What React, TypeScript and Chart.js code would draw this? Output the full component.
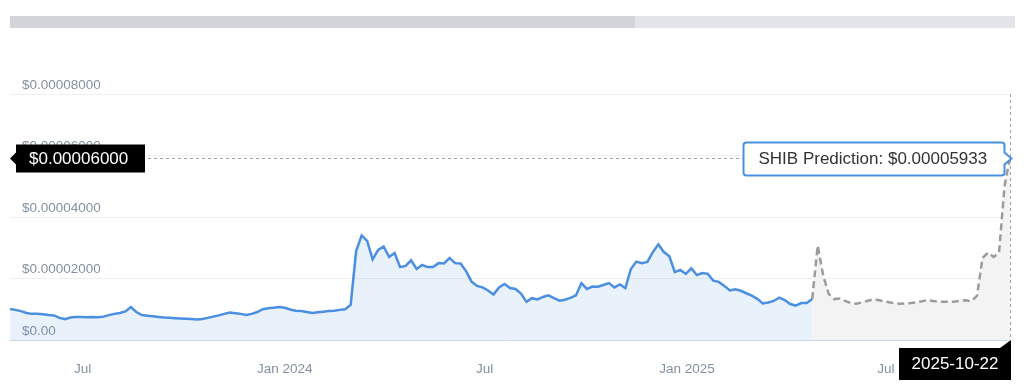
import React, { useEffect, useRef } from 'react';
import { Chart, registerables } from 'chart.js';

Chart.register(...registerables);

// ---- data ----
const startDate = '2023-04-26';
const stepDays = 5;

// SHIB price in micro-dollars (1e-6 USD), one value every 5 days
const actualMicroUSD = [
  10.1, 9.8, 9.4, 8.8, 8.5, 8.5, 8.4, 8.1, 8.0, 7.2,
  6.8, 7.3, 7.5, 7.5, 7.4, 7.5, 7.4, 7.6, 8.1, 8.5,
  8.8, 9.3, 10.7, 9.1, 8.1, 7.9, 7.7, 7.5, 7.3, 7.2,
  7.1, 7.0, 6.9, 6.8, 6.7, 6.8, 7.2, 7.6, 8.0, 8.5,
  8.9, 8.7, 8.5, 8.1, 8.5, 9.1, 10.0, 10.3, 10.5, 10.7,
  10.5, 9.9, 9.5, 9.4, 9.1, 8.8, 9.0, 9.2, 9.4, 9.5,
  9.8, 10.0, 11.4, 28.9, 34.0, 32.2, 26.2, 29.3, 30.4, 27.0,
  28.3, 23.7, 24.1, 25.9, 23.1, 24.4, 23.7, 23.7, 25.0, 24.9,
  26.7, 25.0, 24.9, 22.4, 19.0, 17.6, 17.1, 16.1, 14.8, 17.1,
  18.2, 16.9, 16.6, 15.1, 12.4, 13.6, 13.2, 14.0, 14.5, 13.6,
  12.8, 13.1, 13.7, 14.5, 18.5, 16.6, 17.4, 17.3, 17.9, 18.5,
  17.1, 18.1, 16.9, 23.1, 25.5, 25.0, 25.4, 28.6, 31.1, 28.6,
  27.2, 22.1, 22.8, 21.5, 23.3, 21.1, 21.8, 21.5, 19.3, 18.9,
  17.6, 16.1, 16.5, 16.0, 15.2, 14.4, 13.4, 11.9, 12.2, 12.7,
  13.8, 13.0, 11.7, 11.2, 12.0, 12.0, 13.3,
];

// prediction starts at the last actual point
const predictionMicroUSD = [
  13.3, 30.7, 21.0, 15.0, 13.3, 13.5, 12.7, 12.0, 11.8, 12.2,
  12.7, 13.2, 13.0, 12.6, 12.3, 11.9, 11.8, 11.9, 12.0, 12.3,
  12.6, 13.0, 12.7, 12.5, 12.4, 12.4, 12.5, 12.8, 12.9, 12.6,
  14.4, 26.7, 28.4, 27.0, 28.3, 50.0, 59.33,
];

const xTickDates = ['2023-07-01', '2024-01-01', '2024-07-01', '2025-01-01', '2025-07-01'];
const xTickLabels = ['Jul', 'Jan 2024', 'Jul', 'Jan 2025', 'Jul'];
const yTickValues = [0, 0.00002, 0.00004, 0.00006, 0.00008];
const yTickLabels = ['$0.00', '$0.00002000', '$0.00004000', '$0.00006000', '$0.00008000'];

const crosshairPriceLabel = '$0.00006000';
const predictionText = 'SHIB Prediction: $0.00005933';
const crosshairDateLabel = '2025-10-22';

// ---- helpers ----
const MICRO = 1e-6;
const dayOf = (d: string) => {
  const [y, m, dd] = d.split('-').map(Number);
  const [sy, sm, sd] = startDate.split('-').map(Number);
  return Math.round((Date.UTC(y, m - 1, dd) - Date.UTC(sy, sm - 1, sd)) / 86400000);
};
const endDay = dayOf(crosshairDateLabel);
const actualPoints = actualMicroUSD.map((v, i) => ({ x: i * stepDays, y: v * MICRO }));
const predStart = (actualMicroUSD.length - 1) * stepDays;
const predictionPoints = predictionMicroUSD.map((v, i) => ({ x: predStart + i * stepDays, y: v * MICRO }));
const xTickDays = xTickDates.map(dayOf);

const FONT = '"Liberation Sans", Arial, sans-serif';

const overlayPlugin = {
  id: 'overlay',
  afterDraw(chart: any) {
    const { ctx, chartArea, scales } = chart;
    const last = predictionPoints[predictionPoints.length - 1];
    const px = Math.round(scales.x.getPixelForValue(last.x)) + 0.5;
    const py = Math.round(scales.y.getPixelForValue(last.y)) + 0.5;
    ctx.save();

    // navigator bar
    ctx.fillStyle = '#e4e5ea';
    ctx.fillRect(10, 16, 1005, 12);
    ctx.fillStyle = '#d3d4d9';
    ctx.fillRect(10, 16, 625, 12);

    // crosshair lines
    ctx.strokeStyle = '#a0a0a0';
    ctx.lineWidth = 1;
    ctx.setLineDash([3, 3]);
    ctx.beginPath();
    ctx.moveTo(chartArea.left, py);
    ctx.lineTo(px, py);
    ctx.stroke();
    ctx.beginPath();
    ctx.moveTo(px, chartArea.top);
    ctx.lineTo(px, chartArea.bottom);
    ctx.stroke();
    ctx.setLineDash([]);

    ctx.font = `17px ${FONT}`;
    ctx.textBaseline = 'middle';

    // left price label
    const lx = chartArea.left + 6;
    ctx.fillStyle = '#000';
    ctx.fillRect(lx, py - 14, 129, 28);
    ctx.beginPath();
    ctx.moveTo(lx, py - 6);
    ctx.lineTo(chartArea.left, py);
    ctx.lineTo(lx, py + 6);
    ctx.closePath();
    ctx.fill();
    ctx.fillStyle = '#fff';
    ctx.textAlign = 'left';
    ctx.fillText(crosshairPriceLabel, lx + 13, py + 1);

    // prediction tooltip
    const R = px - 6;
    const L = R - 261;
    const T = py - 16;
    const B = py + 17;
    const r = 3;
    ctx.beginPath();
    ctx.moveTo(L + r, T);
    ctx.lineTo(R - r, T);
    ctx.quadraticCurveTo(R, T, R, T + r);
    ctx.lineTo(R, py - 6);
    ctx.lineTo(R + 7, py);
    ctx.lineTo(R, py + 6);
    ctx.lineTo(R, B - r);
    ctx.quadraticCurveTo(R, B, R - r, B);
    ctx.lineTo(L + r, B);
    ctx.quadraticCurveTo(L, B, L, B - r);
    ctx.lineTo(L, T + r);
    ctx.quadraticCurveTo(L, T, L + r, T);
    ctx.closePath();
    ctx.fillStyle = '#ffffff';
    ctx.fill();
    ctx.strokeStyle = '#4a90e2';
    ctx.lineWidth = 2;
    ctx.stroke();
    ctx.fillStyle = '#333333';
    ctx.fillText(predictionText, L + 15, py + 1);

    // date label
    const dR = px + 0.5;
    const dL = dR - 112;
    const dT = chartArea.bottom + 8;
    ctx.fillStyle = '#000';
    ctx.fillRect(dL, dT, 112, 32);
    ctx.beginPath();
    ctx.moveTo(dR - 11, dT);
    ctx.lineTo(dR, chartArea.bottom);
    ctx.lineTo(dR, dT);
    ctx.closePath();
    ctx.fill();
    ctx.fillStyle = '#fff';
    ctx.textAlign = 'center';
    ctx.fillText(crosshairDateLabel, dL + 56, dT + 16);

    ctx.restore();
  },
};

export default function App() {
  const ref = useRef<HTMLCanvasElement | null>(null);

  useEffect(() => {
    if (!ref.current) return;
    const chart = new Chart(ref.current, {
      type: 'line',
      data: {
        datasets: [
          {
            label: 'SHIB',
            data: actualPoints,
            borderColor: '#4a8fe2',
            backgroundColor: 'rgba(74,144,226,0.12)',
            borderWidth: 2.5,
            pointRadius: 0,
            tension: 0,
            fill: 'origin',
          },
          {
            label: 'SHIB Prediction',
            data: predictionPoints,
            borderColor: '#9c9c9c',
            backgroundColor: '#f3f3f3',
            borderWidth: 2.5,
            borderDash: [7, 4],
            pointRadius: 0,
            tension: 0,
            fill: 'origin',
          },
        ],
      },
      options: {
        responsive: false,
        animation: false,
        devicePixelRatio: 1,
        layout: { padding: { left: 10, right: 14, top: 94, bottom: 0 } },
        plugins: { legend: { display: false }, tooltip: { enabled: false } },
        scales: {
          x: {
            type: 'linear',
            min: 0,
            max: endDay,
            grid: { display: false },
            border: { display: true, color: '#ccd6eb', width: 1 },
            ticks: {
              autoSkip: false,
              maxRotation: 0,
              padding: 13,
              color: '#8490a2',
              font: { family: FONT, size: 13.5 },
              callback: (_v: any, i: number) => xTickLabels[i],
            },
            afterBuildTicks: (s: any) => {
              s.ticks = xTickDays.map((v) => ({ value: v }));
            },
            afterFit: (s: any) => {
              s.height = 47;
            },
          },
          y: {
            min: 0,
            max: yTickValues[yTickValues.length - 1],
            grid: { color: '#efefef', drawTicks: false },
            border: { display: false },
            ticks: {
              mirror: true,
              padding: 12,
              labelOffset: -9,
              color: '#8490a2',
              font: { family: FONT, size: 13.5 },
              callback: (_v: any, i: number) => yTickLabels[i],
            },
            afterBuildTicks: (s: any) => {
              s.ticks = yTickValues.map((v) => ({ value: v }));
            },
            afterFit: (s: any) => {
              s.width = 0;
            },
          },
        },
      },
      plugins: [overlayPlugin],
    } as any);
    return () => chart.destroy();
  }, []);

  return (
    <div style={{ position: 'absolute', left: 0, top: 0, width: 1024, height: 387, background: '#fff' }}>
      <canvas ref={ref} width={1024} height={387} style={{ width: 1024, height: 387, display: 'block' }} />
    </div>
  );
}
